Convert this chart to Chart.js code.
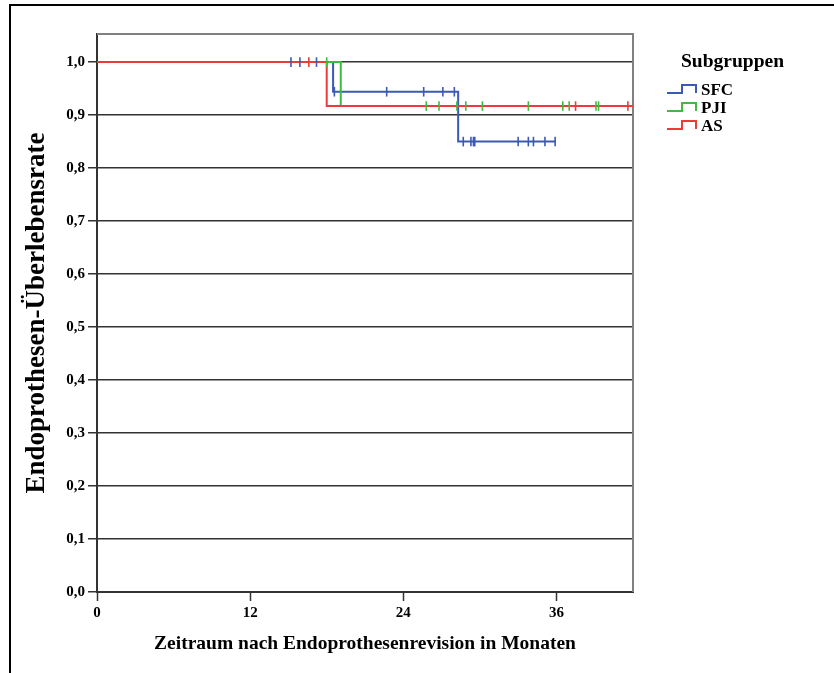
<!DOCTYPE html>
<html lang="de">
<head>
<meta charset="utf-8">
<title>Endoprothesen-Überlebensrate</title>
<script src="https://cdn.jsdelivr.net/npm/chart.js@4.4.1/dist/chart.umd.min.js"></script>
<style>
  html, body { margin: 0; padding: 0; background: #fff; overflow: hidden; }
  #frame {
    position: absolute; left: 9px; top: 4px; width: 900px; height: 700px;
    border-top: 2px solid #000; border-left: 2px solid #000;
  }
  #wrap { position: absolute; left: 0; top: 0; width: 834px; height: 673px; }
</style>
</head>
<body>
<div id="frame"></div>
<div id="wrap"><canvas id="kmChart" width="834" height="673"></canvas></div>
<script>
"use strict";

// ── Data ──────────────────────────────────────────────────────────────────
const groupLabels = ["SFC", "PJI", "AS"];
const groupColors = ["#3d5ab2", "#3dbd3d", "#ee3a3a"];

// step points: time in months, survival after that time
const sfcTimes    = [0, 18.5, 28.3, 35.9];
const sfcSurvival = [1.0, 0.944, 0.85, 0.85];
const sfcCensored = [15.2, 15.9, 17.2, 18.6, 22.7, 25.6, 27.1, 28.0, 28.7, 29.3, 29.5, 29.6, 33.0, 33.8, 34.2, 35.1, 35.9];

const pjiTimes    = [0, 19.1, 39.3];
const pjiSurvival = [1.0, 0.917, 0.917];
const pjiCensored = [18.0, 25.8, 26.8, 28.2, 28.9, 30.2, 33.8, 36.5, 37.0, 39.1, 39.3];

const asTimes     = [0, 18.0, 42];
const asSurvival  = [1.0, 0.917, 0.917];
const asCensored  = [16.6, 37.5, 41.6];

const xTicks = [0, 12, 24, 36];

const FONT = "'Liberation Serif', 'Times New Roman', serif";

// ── Helpers ───────────────────────────────────────────────────────────────
function survivalAt(times, surv, t) {
  let s = surv[0];
  for (let i = 0; i < times.length; i++) if (times[i] <= t) s = surv[i];
  return s;
}

function stepLine(label, times, surv, color, order) {
  return {
    label, order,
    data: times.map((t, i) => ({ x: t, y: surv[i] })),
    borderColor: color, borderWidth: 2,
    stepped: true, pointRadius: 0, fill: false, showLine: true,
  };
}

function censorMarks(label, times, surv, censored, color) {
  return {
    label: label + " zensiert", order: 0,
    data: censored.map(t => ({ x: t, y: survivalAt(times, surv, t) })),
    showLine: false, pointStyle: "line", rotation: 90,
    pointRadius: 4.8, pointHoverRadius: 4.8,
    borderColor: color, borderWidth: 1.6, backgroundColor: color,
  };
}

// ── Plugins ───────────────────────────────────────────────────────────────
const plotFrame = {
  id: "plotFrame",
  beforeDatasetsDraw(chart) {
    const { ctx, chartArea: a } = chart;
    ctx.save();
    ctx.strokeStyle = "#808080";
    ctx.lineWidth = 2;
    ctx.beginPath();
    ctx.moveTo(a.left, a.top);
    ctx.lineTo(a.right, a.top);
    ctx.lineTo(a.right, a.bottom);
    ctx.stroke();
    ctx.restore();
  },
};

const stepLegend = {
  id: "stepLegend",
  afterDraw(chart) {
    const ctx = chart.ctx;
    ctx.save();
    ctx.fillStyle = "#000";
    ctx.textBaseline = "middle";
    ctx.font = "bold 19.5px " + FONT;
    ctx.textAlign = "left";
    ctx.fillText("Subgruppen", 681, 62);

    ctx.font = "bold 17px " + FONT;
    groupLabels.forEach((lbl, i) => {
      const y = 90 + i * 18;
      ctx.strokeStyle = groupColors[i];
      ctx.lineWidth = 2;
      ctx.beginPath();
      ctx.moveTo(667, y + 3);
      ctx.lineTo(682, y + 3);
      ctx.lineTo(682, y - 5);
      ctx.lineTo(696, y - 5);
      ctx.lineTo(696, y + 3);
      ctx.stroke();
      ctx.fillText(lbl, 701, y + 1);
    });
    ctx.restore();
  },
};

// ── Chart ─────────────────────────────────────────────────────────────────
const datasets = [
  censorMarks("SFC", sfcTimes, sfcSurvival, sfcCensored, groupColors[0]),
  censorMarks("PJI", pjiTimes, pjiSurvival, pjiCensored, groupColors[1]),
  censorMarks("AS",  asTimes,  asSurvival,  asCensored,  groupColors[2]),
  stepLine("AS",  asTimes,  asSurvival,  groupColors[2], 1),
  stepLine("PJI", pjiTimes, pjiSurvival, groupColors[1], 2),
  stepLine("SFC", sfcTimes, sfcSurvival, groupColors[0], 3),
];

new Chart(document.getElementById("kmChart"), {
  type: "scatter",
  data: { datasets },
  plugins: [plotFrame, stepLegend],
  options: {
    responsive: false,
    animation: false,
    layout: { padding: { left: 0, top: 34, right: 201, bottom: 0 } },
    plugins: {
      legend: { display: false },
      tooltip: { enabled: false },
    },
    scales: {
      x: {
        type: "linear",
        min: 0, max: 42,
        afterFit: s => { s.height = 81; },
        afterBuildTicks: s => { s.ticks = xTicks.map(v => ({ value: v })); },
        ticks: {
          color: "#000", padding: 3,
          font: { family: FONT, size: 15, weight: "bold" },
          maxRotation: 0,
        },
        grid: { drawOnChartArea: false, drawTicks: true, tickLength: 9, tickColor: "#333", tickWidth: 1.5 },
        border: { display: true, color: "#333", width: 2 },
        title: {
          display: true,
          text: "Zeitraum nach Endoprothesenrevision in Monaten",
          color: "#000",
          font: { family: FONT, size: 19.5, weight: "bold" },
          padding: { top: 0, bottom: 17 },
        },
      },
      y: {
        type: "linear",
        min: 0, max: 1.053,
        afterFit: s => { s.width = 97; },
        ticks: {
          stepSize: 0.1, includeBounds: false, color: "#000", padding: 3,
          font: { family: FONT, size: 15, weight: "bold" },
          callback: v => v.toFixed(1).replace(".", ","),
        },
        grid: { color: "#333", lineWidth: 1.5, drawTicks: true, tickLength: 9, tickColor: "#333", tickWidth: 1.5 },
        border: { display: true, color: "#333", width: 2 },
        title: {
          display: true,
          text: "Endoprothesen-Überlebensrate",
          color: "#000",
          font: { family: FONT, size: 27, weight: "bold" },
          padding: { top: 21, bottom: 0 },
        },
      },
    },
  },
});
</script>
</body>
</html>
